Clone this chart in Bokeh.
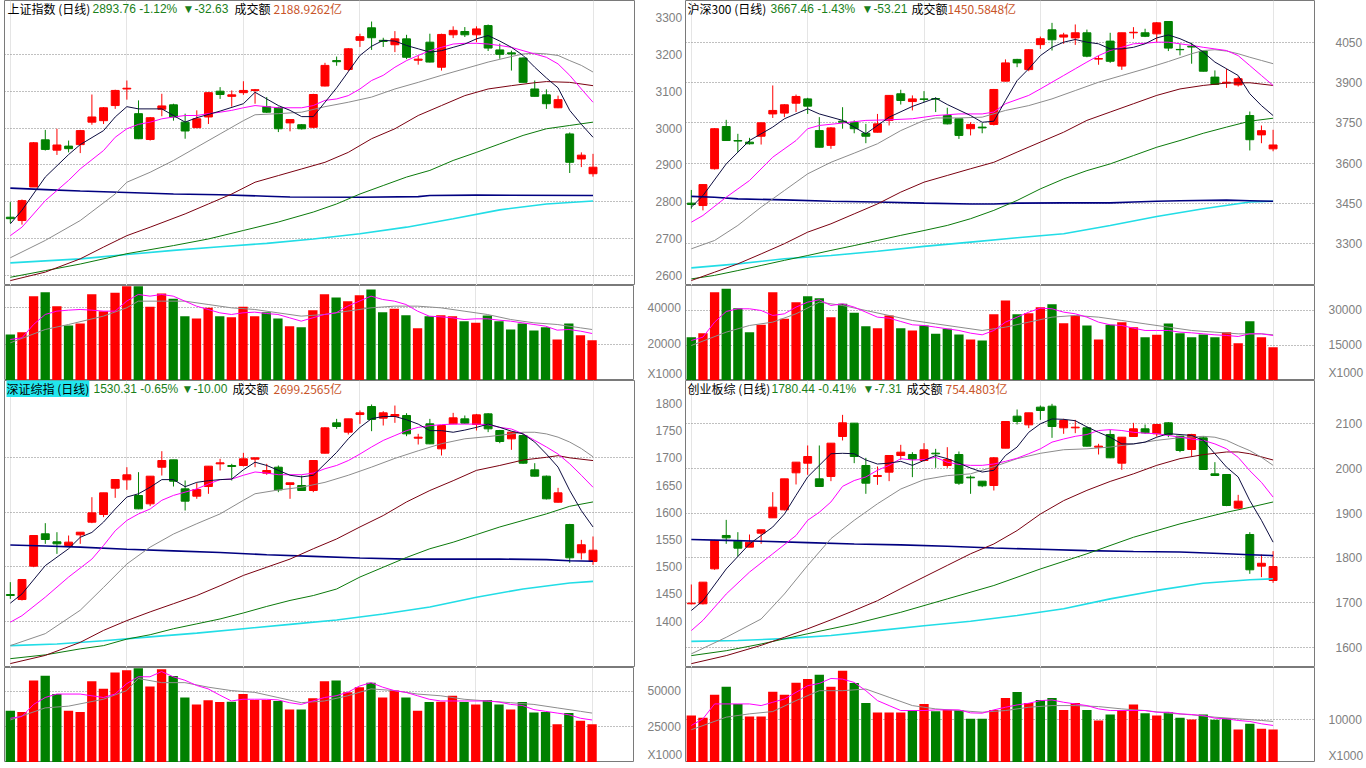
from bokeh.plotting import figure
from bokeh.layouts import column, row
from bokeh.models import FixedTicker, Label, Range1d, ColumnDataSource
from bokeh.embed import file_html
from bokeh.resources import INLINE

# ---------------- titles ----------------
sh_title = ["上证指数 (日线)", "2893.76 -1.12%", "▼-32.63", "成交额", "2188.9262亿"]
hs_title = ["沪深300 (日线)", "3667.46 -1.43%", "▼-53.21", "成交额", "1450.5848亿"]
sz_title = ["深证综指 (日线)", "1530.31 -0.65%", "▼-10.00", "成交额", "2699.2565亿"]
cy_title = ["创业板综 (日线)", "1780.44 -0.41%", "▼-7.31", "成交额", "754.4803亿"]
unit_label = "X1000"

# ---------------- 上证指数 ----------------
sh_open = [2758, 2749, 2840, 2968, 2940, 2951, 2955, 3016, 3020, 3061, 3106, 3039, 2969, 3051, 3063, 3016, 3001, 3030, 3100, 3086, 3096, 3102, 3058, 3055, 3014, 3009, 3002, 3114, 3183, 3159, 3238, 3272, 3238, 3226, 3242, 3184, 3233, 3165, 3253, 3262, 3253, 3278, 3212, 3204, 3190, 3106, 3090, 3055, 2984, 2916, 2876]
sh_high = [2799, 2806, 2962, 2995, 2998, 2966, 2995, 3091, 3057, 3104, 3129, 3075, 3030, 3093, 3066, 3039, 3048, 3097, 3111, 3102, 3127, 3106, 3084, 3058, 3023, 3011, 3093, 3177, 3194, 3217, 3256, 3289, 3245, 3263, 3253, 3197, 3256, 3256, 3276, 3274, 3276, 3281, 3229, 3210, 3192, 3129, 3105, 3088, 2988, 2934, 2930]
sh_low = [2742, 2738, 2840, 2939, 2927, 2934, 2932, 3009, 3011, 3052, 3077, 2970, 2966, 3032, 3020, 2971, 3000, 3011, 3079, 3058, 3090, 3066, 3041, 2989, 2991, 2996, 2999, 3113, 3169, 3154, 3220, 3212, 3220, 3206, 3187, 3172, 3178, 3156, 3244, 3247, 3233, 3209, 3188, 3156, 3124, 3086, 3052, 3054, 2878, 2894, 2868]
sh_close = [2754, 2803, 2960, 2942, 2954, 2944, 2993, 3030, 3055, 3102, 3108, 2971, 3028, 3060, 3030, 2992, 3025, 3096, 3091, 3090, 3102, 3104, 3043, 2998, 3023, 2998, 3091, 3170, 3180, 3215, 3248, 3245, 3235, 3242, 3192, 3187, 3179, 3254, 3265, 3253, 3269, 3217, 3200, 3201, 3124, 3086, 3066, 3077, 2907, 2926.39, 2893.76]
sh_vol = [25282, 26564, 46350, 48548, 40854, 30228, 31327, 47449, 38106, 48182, 51846, 51846, 40487, 47815, 44884, 35358, 34075, 39938, 35358, 34808, 40487, 35358, 37556, 34075, 29862, 29312, 38655, 47449, 45616, 43602, 46899, 50014, 37556, 39388, 35907, 28762, 35358, 35907, 35358, 32610, 31694, 35724, 32610, 28030, 31327, 27480, 29312, 22534, 31327, 24915, 22167]
sh_ma5 = [(0, 2740), (1, 2777), (3, 2867), (5, 2928), (6, 2955), (8, 2993), (9, 3030), (10, 3058), (11, 3052), (13, 3052), (14, 3034), (15, 3016), (16, 3028), (18, 3046), (20, 3066), (21, 3097), (22, 3079), (23, 3061), (24, 3048), (25, 3031), (26, 3031), (27, 3070), (28, 3109), (29, 3153), (30, 3197), (31, 3222), (32, 3238), (33, 3236), (34, 3224), (35, 3215), (36, 3206), (37, 3210), (38, 3219), (39, 3228), (40, 3242), (41, 3251), (42, 3236), (43, 3219), (44, 3197), (45, 3165), (46, 3136), (47, 3109), (48, 3048), (49, 3010), (50, 2975)]
sh_ma10 = [(0, 2708), (1, 2731), (3, 2803), (5, 2858), (6, 2889), (8, 2939), (9, 2975), (10, 2998), (11, 3010), (12, 3016), (13, 3025), (14, 3030), (15, 3034), (16, 3034), (17, 3039), (18, 3043), (19, 3048), (20, 3055), (21, 3061), (22, 3058), (23, 3055), (24, 3055), (25, 3055), (26, 3061), (27, 3075), (28, 3079), (29, 3088), (30, 3106), (31, 3129), (32, 3143), (33, 3165), (34, 3183), (35, 3197), (36, 3210), (37, 3219), (38, 3228), (39, 3230), (40, 3230), (41, 3228), (42, 3224), (43, 3219), (44, 3210), (45, 3201), (46, 3192), (47, 3174), (48, 3143), (49, 3106), (50, 3070)]
sh_ma20 = [(0, 2648), (3, 2695), (6, 2749), (9, 2821), (10, 2853), (12, 2880), (14, 2912), (16, 2948), (18, 2984), (20, 3020), (21, 3036), (23, 3039), (25, 3043), (27, 3058), (29, 3070), (31, 3084), (33, 3106), (35, 3124), (37, 3143), (39, 3161), (41, 3179), (43, 3194), (44, 3201), (45, 3203), (46, 3201), (47, 3197), (48, 3183), (49, 3170), (50, 3152)]
sh_ma60 = [(0, 2586), (3, 2609), (6, 2645), (8, 2677), (10, 2708), (12, 2731), (15, 2767), (17, 2794), (19, 2821), (21, 2853), (23, 2871), (25, 2889), (27, 2907), (29, 2934), (31, 2971), (33, 2998), (35, 3034), (37, 3061), (39, 3088), (41, 3106), (43, 3115), (45, 3123), (46, 3126), (48, 3124), (50, 3115)]
sh_ma120 = [(0, 2595), (3, 2613), (6, 2631), (10, 2659), (14, 2681), (17, 2699), (20, 2722), (23, 2745), (26, 2772), (28, 2794), (30, 2821), (32, 2844), (34, 2867), (36, 2885), (38, 2912), (40, 2934), (42, 2957), (44, 2980), (46, 2998), (48, 3007), (50, 3016)]
sh_ma250 = [(0, 2634), (6, 2645), (10, 2657), (14, 2668), (18, 2678), (22, 2687), (26, 2699), (30, 2713), (34, 2731), (38, 2754), (42, 2778), (46, 2794), (50, 2802)]
sh_navy = [(0, 2837), (3, 2833), (6, 2829), (10, 2825), (14, 2821), (18, 2819), (22, 2815), (24, 2813), (30, 2812), (35, 2814), (36, 2817), (40, 2818), (50, 2817)]
sh_vma5 = [(0, 22534), (1, 23450), (2, 30778), (3, 36274), (4, 38106), (5, 38655), (6, 39022), (7, 38655), (8, 38106), (9, 38106), (10, 43602), (11, 47266), (12, 46350), (13, 47266), (14, 46350), (15, 43602), (16, 40854), (17, 39022), (18, 37190), (19, 36274), (20, 37190), (21, 37556), (22, 36823), (23, 36274), (24, 34442), (25, 32610), (26, 34442), (27, 36274), (28, 37190), (29, 40854), (30, 43602), (31, 46350), (32, 44518), (33, 43602), (34, 41770), (35, 38106), (36, 35358), (37, 34991), (38, 34442), (39, 33526), (40, 33892), (41, 33892), (42, 33159), (43, 32610), (44, 31694), (45, 30778), (46, 29862), (47, 27663), (48, 28030), (49, 27114), (50, 25831)]
sh_vma10 = [(0, 20702), (3, 28030), (5, 30778), (8, 35358), (10, 39938), (11, 43602), (13, 43602), (15, 43602), (17, 41770), (19, 39938), (21, 39022), (23, 37190), (25, 35358), (27, 36274), (29, 38106), (31, 39938), (33, 40854), (35, 40854), (37, 39938), (39, 38106), (41, 36274), (43, 33526), (45, 31694), (47, 30778), (49, 28946), (50, 28030)]
sh_ticks = [2600, 2700, 2800, 2900, 3000, 3100, 3200, 3300]
sh_grid = [2600, 2700, 2800, 2900, 3000, 3100, 3200]
sh_vticks = [20000, 40000]

# ---------------- 沪深300 ----------------
hs_open = [3451, 3442, 3579, 3736, 3684, 3678, 3700, 3783, 3786, 3823, 3839, 3721, 3666, 3756, 3752, 3711, 3715, 3759, 3858, 3829, 3839, 3840, 3777, 3765, 3728, 3734, 3744, 3905, 3986, 3948, 4041, 4096, 4069, 4066, 4085, 3987, 4054, 3961, 4085, 4085, 4081, 4127, 4023, 4035, 4017, 3920, 3898, 3891, 3777, 3705, 3653]
hs_high = [3500, 3520, 3730, 3761, 3709, 3694, 3750, 3889, 3819, 3855, 3843, 3771, 3734, 3808, 3759, 3746, 3783, 3853, 3873, 3852, 3868, 3845, 3806, 3765, 3752, 3749, 3876, 3986, 3988, 4024, 4071, 4122, 4085, 4116, 4097, 4000, 4085, 4085, 4106, 4100, 4125, 4128, 4044, 4048, 4019, 3945, 3951, 3922, 3792, 3740, 3724]
hs_low = [3430, 3424, 3576, 3683, 3641, 3669, 3669, 3768, 3771, 3790, 3783, 3658, 3653, 3728, 3711, 3674, 3714, 3740, 3818, 3796, 3827, 3790, 3744, 3690, 3703, 3711, 3740, 3904, 3957, 3942, 4025, 4019, 4044, 4040, 3994, 3966, 3973, 3947, 4063, 4069, 4050, 4017, 4001, 3970, 3941, 3891, 3880, 3885, 3647, 3674, 3644]
hs_close = [3446, 3520, 3728, 3684, 3682, 3672, 3750, 3796, 3817, 3848, 3812, 3659, 3731, 3752, 3728, 3700, 3746, 3852, 3833, 3839, 3837, 3838, 3746, 3703, 3744, 3731, 3874, 3973, 3973, 4022, 4063, 4059, 4077, 4085, 3998, 3989, 3979, 4085, 4087, 4072, 4122, 4028, 4022, 4032, 3942, 3893, 3901, 3914, 3687, 3720.67, 3667.46]
hs_vol = [18572, 20286, 37858, 39287, 31000, 20715, 23858, 37858, 26429, 33572, 36144, 35286, 27143, 32858, 29001, 23286, 22429, 27858, 22429, 21429, 23572, 20000, 22143, 19715, 17572, 17143, 28429, 34286, 28429, 28858, 31429, 32715, 24572, 27858, 23572, 17572, 23858, 25001, 22858, 18572, 19572, 24429, 20286, 18572, 19715, 18572, 20715, 16000, 25429, 18572, 14286]
hs_ma5 = [(0, 3436), (1, 3479), (3, 3597), (5, 3684), (7, 3734), (8, 3765), (10, 3802), (11, 3783), (13, 3759), (15, 3709), (17, 3771), (19, 3811), (21, 3842), (22, 3818), (24, 3777), (25, 3752), (26, 3756), (27, 3833), (28, 3907), (29, 3951), (30, 4000), (31, 4031), (32, 4050), (33, 4060), (34, 4050), (35, 4044), (36, 4025), (37, 4025), (38, 4031), (39, 4044), (40, 4066), (41, 4077), (42, 4063), (43, 4044), (44, 4013), (45, 3976), (46, 3951), (47, 3926), (48, 3858), (49, 3814), (50, 3777)]
hs_ma10 = [(0, 3380), (1, 3405), (3, 3473), (5, 3535), (7, 3622), (9, 3684), (10, 3728), (11, 3740), (13, 3749), (15, 3759), (17, 3761), (19, 3765), (21, 3777), (23, 3783), (25, 3783), (26, 3790), (27, 3821), (29, 3852), (30, 3876), (31, 3901), (32, 3926), (33, 3951), (34, 3976), (35, 4000), (36, 4019), (37, 4031), (38, 4044), (39, 4046), (40, 4050), (41, 4050), (42, 4044), (43, 4038), (44, 4031), (45, 4025), (46, 4019), (47, 4000), (48, 3963), (49, 3926), (50, 3889)]
hs_ma20 = [(0, 3281), (2, 3312), (4, 3368), (6, 3436), (8, 3498), (10, 3560), (12, 3603), (14, 3637), (16, 3672), (18, 3721), (20, 3759), (21, 3768), (23, 3768), (25, 3771), (27, 3796), (29, 3814), (31, 3839), (33, 3870), (35, 3901), (37, 3926), (39, 3951), (41, 3978), (43, 4007), (44, 4019), (45, 4022), (46, 4017), (47, 4007), (48, 3994), (49, 3982), (50, 3970)]
hs_ma60 = [(0, 3163), (2, 3194), (4, 3225), (6, 3262), (8, 3300), (10, 3343), (12, 3374), (14, 3411), (16, 3448), (18, 3492), (20, 3529), (22, 3554), (24, 3579), (26, 3603), (28, 3641), (30, 3678), (32, 3715), (34, 3759), (36, 3790), (38, 3821), (40, 3852), (42, 3876), (44, 3889), (46, 3898), (48, 3899), (50, 3889)]
hs_ma120 = [(0, 3169), (2, 3182), (4, 3200), (6, 3219), (8, 3238), (10, 3256), (12, 3275), (14, 3293), (16, 3312), (18, 3331), (20, 3349), (22, 3368), (24, 3393), (26, 3424), (28, 3461), (30, 3504), (32, 3541), (34, 3572), (36, 3597), (38, 3628), (40, 3659), (42, 3684), (44, 3711), (46, 3734), (48, 3756), (50, 3767)]
hs_ma250 = [(0, 3210), (4, 3225), (8, 3244), (12, 3256), (16, 3272), (20, 3290), (24, 3306), (28, 3322), (32, 3337), (36, 3368), (40, 3401), (44, 3430), (48, 3455), (50, 3458)]
hs_navy = [(0, 3476), (2, 3473), (4, 3467), (8, 3463), (12, 3458), (16, 3455), (20, 3451), (24, 3448), (26, 3448), (28, 3451), (32, 3452), (36, 3452), (38, 3455), (40, 3458), (42, 3460), (46, 3462), (48, 3460), (50, 3458)]
hs_vma5 = [(0, 17143), (1, 18572), (2, 25001), (3, 29572), (4, 30715), (5, 30715), (6, 30001), (7, 27858), (8, 28572), (9, 31429), (10, 33572), (11, 34572), (12, 32144), (13, 32858), (14, 31429), (15, 29286), (16, 27143), (17, 26715), (18, 25286), (19, 23858), (20, 23572), (21, 22858), (22, 22143), (23, 21429), (24, 20286), (25, 19572), (26, 21429), (27, 25001), (28, 27143), (29, 29286), (30, 31000), (31, 30715), (32, 29286), (33, 28572), (34, 27143), (35, 25001), (36, 23858), (37, 23572), (38, 22429), (39, 21429), (40, 21429), (41, 21429), (42, 20715), (43, 20429), (44, 20000), (45, 19572), (46, 19286), (47, 18857), (48, 20000), (49, 20000), (50, 19286)]
hs_vma10 = [(0, 15000), (3, 20715), (5, 23572), (7, 25001), (9, 28572), (11, 33572), (13, 32144), (15, 30001), (17, 27858), (19, 25715), (21, 24286), (23, 22858), (25, 21429), (27, 22858), (29, 25001), (31, 27143), (33, 27858), (35, 27143), (37, 25715), (39, 24286), (41, 22858), (43, 21429), (45, 20715), (47, 20000), (49, 20000), (50, 19572)]
hs_ticks = [3300, 3450, 3600, 3750, 3900, 4050]
hs_grid = [3300, 3450, 3600, 3750, 3900, 4050]
hs_vticks = [15000, 30000]

# ---------------- 深证综指 ----------------
sz_open = [1448.9, 1439.7, 1501.0, 1560.4, 1545.7, 1538.9, 1558.5, 1581.8, 1595.9, 1644.3, 1659.6, 1630.8, 1615.5, 1682.8, 1696.3, 1643.0, 1629.6, 1647.3, 1689.0, 1685.9, 1685.9, 1697.6, 1671.8, 1682.8, 1651.0, 1649.2, 1640.0, 1708.6, 1764.3, 1747.2, 1779.6, 1794.3, 1772.9, 1776.5, 1777.8, 1736.1, 1762.5, 1716.5, 1762.5, 1771.6, 1761.2, 1780.8, 1750.2, 1734.9, 1741.0, 1677.9, 1666.3, 1618.5, 1577.5, 1525.5, 1509.5]
sz_high = [1471.6, 1476.5, 1557.3, 1580.0, 1563.4, 1557.3, 1563.4, 1627.7, 1635.7, 1660.2, 1682.8, 1673.7, 1666.3, 1712.2, 1696.3, 1658.4, 1653.5, 1684.7, 1698.2, 1689.0, 1709.2, 1700.0, 1689.0, 1685.9, 1654.1, 1667.5, 1695.1, 1756.3, 1771.6, 1771.6, 1787.0, 1798.0, 1785.7, 1796.1, 1782.1, 1744.1, 1771.6, 1759.4, 1782.7, 1777.8, 1780.8, 1782.1, 1751.4, 1747.2, 1744.1, 1690.2, 1667.5, 1644.9, 1578.7, 1549.3, 1555.5]
sz_low = [1440.9, 1437.9, 1499.1, 1542.0, 1523.6, 1535.9, 1542.0, 1580.0, 1591.0, 1626.5, 1641.2, 1605.7, 1611.2, 1667.5, 1647.3, 1603.2, 1624.7, 1633.9, 1676.7, 1658.4, 1684.1, 1682.8, 1668.8, 1636.9, 1624.7, 1639.4, 1636.9, 1708.0, 1753.3, 1742.9, 1762.5, 1749.0, 1759.4, 1764.3, 1739.8, 1724.5, 1725.1, 1704.3, 1761.9, 1762.5, 1750.2, 1747.2, 1726.9, 1714.7, 1689.0, 1665.7, 1623.5, 1617.9, 1507.1, 1513.2, 1503.4]
sz_close = [1447.1, 1476.5, 1557.3, 1550.0, 1542.0, 1545.1, 1563.4, 1599.0, 1635.7, 1660.2, 1668.8, 1606.3, 1666.3, 1695.1, 1657.1, 1620.4, 1641.8, 1684.7, 1690.8, 1684.1, 1698.2, 1700.0, 1676.7, 1641.2, 1654.1, 1640.0, 1695.1, 1755.1, 1757.6, 1771.6, 1782.7, 1770.4, 1782.7, 1779.6, 1744.1, 1738.0, 1725.7, 1759.4, 1773.5, 1763.7, 1779.0, 1753.3, 1730.0, 1747.2, 1690.2, 1666.3, 1624.7, 1635.7, 1516.3, 1540.31, 1530.31]
sz_vol = [36405, 35434, 57520, 60918, 48055, 36405, 35434, 57035, 51695, 63102, 64801, 66257, 53394, 65529, 60675, 45628, 40774, 43686, 42473, 42715, 48055, 43929, 43929, 43201, 37133, 37133, 45142, 57035, 57520, 49268, 52909, 56064, 45628, 50482, 45628, 36405, 42473, 42715, 46841, 42473, 40774, 43929, 40774, 37133, 42473, 35192, 35434, 26940, 34706, 29367, 26940]
sz_ma5 = [(0, 1433), (1, 1450), (3, 1502), (5, 1533), (6, 1554), (7, 1563), (8, 1582), (9, 1606), (10, 1628), (11, 1634), (12, 1646), (13, 1660), (14, 1660), (15, 1647), (16, 1655), (17, 1658), (18, 1660), (19, 1661), (20, 1678), (21, 1692), (22, 1686), (23, 1677), (24, 1668), (25, 1665), (26, 1668), (27, 1689), (28, 1710), (29, 1735), (30, 1756), (31, 1772), (32, 1776), (33, 1776), (34, 1770), (35, 1762), (36, 1750), (37, 1750), (38, 1747), (39, 1751), (40, 1756), (41, 1762), (42, 1756), (43, 1749), (44, 1744), (45, 1729), (46, 1707), (47, 1683), (48, 1640), (49, 1603), (50, 1573)]
sz_ma10 = [(0, 1398), (1, 1410), (3, 1444), (5, 1481), (7, 1514), (8, 1539), (9, 1566), (10, 1585), (11, 1597), (12, 1606), (13, 1622), (14, 1631), (15, 1637), (16, 1643), (17, 1652), (18, 1660), (19, 1661), (20, 1668), (21, 1674), (22, 1672), (23, 1669), (24, 1669), (25, 1669), (26, 1672), (27, 1680), (28, 1686), (29, 1695), (30, 1707), (31, 1720), (32, 1732), (33, 1741), (34, 1750), (35, 1756), (36, 1759), (37, 1761), (38, 1762), (39, 1762), (40, 1762), (41, 1761), (42, 1756), (43, 1753), (44, 1744), (45, 1732), (46, 1720), (47, 1707), (48, 1689), (49, 1668), (50, 1646)]
sz_ma20 = [(0, 1355), (3, 1377), (6, 1420), (8, 1462), (10, 1505), (12, 1536), (14, 1560), (16, 1579), (18, 1597), (20, 1622), (21, 1634), (23, 1641), (25, 1646), (27, 1655), (29, 1668), (31, 1683), (33, 1699), (35, 1713), (37, 1726), (39, 1735), (41, 1739), (43, 1744), (44, 1747), (45, 1747), (46, 1744), (47, 1738), (48, 1729), (49, 1717), (50, 1702)]
sz_ma60 = [(0, 1322), (3, 1337), (6, 1361), (8, 1383), (10, 1401), (12, 1417), (14, 1432), (16, 1447), (18, 1465), (20, 1484), (22, 1499), (24, 1514), (26, 1533), (28, 1551), (30, 1573), (32, 1594), (34, 1619), (36, 1640), (38, 1658), (40, 1677), (42, 1686), (44, 1696), (46, 1701), (47, 1704), (48, 1700), (50, 1695)]
sz_ma120 = [(0, 1331), (3, 1338), (6, 1349), (8, 1355), (10, 1367), (12, 1375), (14, 1386), (16, 1395), (18, 1404), (20, 1415), (22, 1427), (24, 1438), (26, 1447), (28, 1459), (30, 1481), (32, 1499), (34, 1517), (36, 1533), (38, 1545), (40, 1559), (42, 1573), (44, 1585), (46, 1597), (48, 1611), (50, 1619)]
sz_ma250 = [(0, 1355), (4, 1358), (8, 1364), (12, 1371), (16, 1378), (20, 1386), (24, 1394), (28, 1402), (32, 1413), (36, 1426), (40, 1444), (44, 1459), (48, 1470), (50, 1473)]
sz_navy = [(0, 1540), (3, 1538), (6, 1536), (10, 1532), (14, 1529), (18, 1526), (22, 1522), (26, 1519), (30, 1516), (34, 1514), (38, 1514), (42, 1514), (46, 1513), (48, 1511), (50, 1510)]
sz_vma5 = [(0, 31066), (1, 32279), (2, 40774), (3, 45628), (4, 48055), (6, 48055), (8, 45628), (9, 48055), (10, 55336), (11, 60190), (12, 60190), (13, 63830), (14, 60190), (15, 57763), (16, 54122), (17, 51695), (18, 47327), (19, 43201), (20, 44414), (21, 44414), (22, 44414), (23, 43929), (24, 41987), (25, 40774), (26, 43201), (27, 45628), (28, 46841), (29, 49268), (30, 53637), (31, 56064), (32, 52909), (33, 50482), (34, 49268), (35, 46841), (36, 44414), (37, 43201), (38, 43201), (39, 43201), (40, 43201), (41, 43201), (42, 42473), (43, 40774), (44, 40046), (45, 37133), (46, 35920), (47, 34706), (48, 33493), (49, 31066), (50, 29852)]
sz_vma10 = [(0, 29852), (3, 38347), (5, 39560), (8, 44414), (10, 50482), (11, 58976), (13, 56064), (15, 56064), (17, 52909), (19, 50482), (21, 49268), (23, 45628), (25, 41987), (27, 43201), (29, 46841), (31, 51695), (33, 50482), (35, 48055), (37, 46841), (39, 44414), (41, 43201), (43, 41987), (45, 40774), (47, 38347), (49, 35920), (50, 34706)]
sz_ticks = [1400, 1450, 1500, 1550, 1600, 1650, 1700, 1750, 1800]
sz_grid = [1400, 1500, 1600, 1700]
sz_vticks = [25000, 50000]

# ---------------- 创业板综 ----------------
cy_open = [1697.0, 1697.0, 1775.3, 1850.0, 1837.3, 1823.9, 1855.2, 1889.5, 1907.4, 1990.3, 2011.9, 1976.8, 1982.1, 2071.6, 2101.5, 2006.7, 1982.1, 1991.8, 2029.1, 2031.3, 2017.9, 2034.3, 2006.7, 2031.3, 1980.6, 1971.6, 1961.9, 2045.5, 2117.1, 2097.7, 2137.3, 2139.5, 2091.0, 2091.0, 2091.0, 2047.7, 2076.1, 2011.9, 2071.6, 2088.8, 2077.6, 2102.2, 2072.4, 2042.5, 2068.6, 1988.0, 1986.5, 1911.2, 1852.2, 1781.3, 1749.2]
cy_high = [1740.3, 1745.5, 1840.3, 1885.0, 1857.4, 1852.2, 1862.7, 1947.0, 1976.8, 2014.2, 2051.5, 2051.5, 2056.7, 2120.1, 2101.5, 2023.9, 2004.5, 2029.1, 2053.0, 2036.5, 2056.7, 2044.0, 2047.7, 2038.0, 1984.3, 1971.6, 2025.4, 2105.2, 2132.1, 2124.6, 2141.0, 2144.8, 2111.2, 2108.9, 2094.0, 2055.2, 2086.5, 2070.1, 2102.2, 2098.5, 2100.0, 2103.7, 2072.4, 2077.6, 2072.4, 2014.2, 1986.5, 1941.0, 1857.4, 1807.4, 1814.9]
cy_low = [1695.5, 1695.5, 1773.1, 1831.3, 1803.0, 1823.9, 1831.3, 1889.5, 1906.0, 1964.2, 1985.8, 1959.7, 1971.6, 2062.7, 2011.9, 1943.3, 1963.4, 1971.6, 2019.4, 1980.6, 2015.7, 2001.5, 2001.5, 1963.4, 1943.3, 1958.2, 1950.7, 2045.5, 2098.5, 2090.3, 2108.9, 2068.6, 2077.6, 2079.1, 2049.2, 2031.3, 2023.1, 1997.0, 2071.6, 2077.6, 2071.6, 2070.1, 2036.5, 2026.8, 1997.0, 1983.6, 1915.6, 1909.7, 1764.1, 1756.7, 1744.0]
cy_close = [1698.5, 1745.5, 1838.8, 1844.7, 1821.6, 1835.0, 1862.7, 1913.4, 1976.8, 2014.2, 2026.8, 1959.7, 2056.7, 2102.2, 2026.8, 1967.1, 1984.3, 2029.1, 2036.5, 2020.9, 2041.8, 2032.8, 2020.1, 1967.1, 1979.1, 1961.2, 2023.9, 2105.2, 2105.2, 2124.6, 2129.8, 2094.0, 2107.4, 2092.5, 2050.0, 2050.0, 2023.9, 2070.1, 2088.8, 2079.8, 2098.5, 2076.1, 2040.3, 2076.1, 1997.7, 1984.3, 1917.1, 1926.8, 1773.1, 1787.75, 1780.44]
cy_vol = [11005, 10463, 15888, 17748, 13718, 10773, 10773, 16585, 15888, 18678, 19530, 20538, 17748, 21468, 18600, 13950, 11703, 11703, 11703, 12168, 13718, 12013, 12323, 12323, 10230, 10230, 12323, 15113, 16508, 13950, 14648, 15113, 12323, 13950, 12323, 9843, 11238, 12168, 13563, 11548, 11005, 11780, 10463, 10075, 11238, 9998, 10385, 7750, 9068, 7905, 7750]
cy_ma5 = [(0, 1682), (1, 1704), (3, 1775), (5, 1831), (7, 1869), (8, 1898), (9, 1940), (10, 1981), (11, 2007), (12, 2033), (13, 2034), (14, 2033), (15, 2019), (16, 2010), (17, 2012), (18, 2016), (19, 2007), (20, 2018), (21, 2029), (22, 2022), (23, 2012), (24, 2001), (25, 1992), (26, 1996), (27, 2029), (28, 2048), (29, 2081), (30, 2100), (31, 2111), (32, 2110), (33, 2107), (34, 2093), (35, 2081), (36, 2070), (37, 2055), (38, 2055), (39, 2059), (40, 2070), (41, 2078), (42, 2076), (43, 2074), (44, 2063), (45, 2033), (46, 2003), (47, 1981), (48, 1928), (49, 1884), (50, 1835)]
cy_ma10 = [(0, 1637), (1, 1660), (3, 1719), (5, 1768), (7, 1809), (9, 1850), (10, 1884), (11, 1902), (12, 1925), (13, 1960), (14, 1973), (15, 1981), (16, 1996), (17, 2007), (18, 2022), (19, 2019), (20, 2020), (21, 2025), (22, 2014), (23, 2009), (24, 2007), (25, 2007), (26, 2010), (27, 2016), (28, 2023), (29, 2033), (30, 2044), (31, 2059), (32, 2066), (33, 2072), (34, 2076), (35, 2085), (36, 2087), (37, 2085), (38, 2081), (39, 2079), (40, 2078), (41, 2074), (42, 2070), (43, 2066), (44, 2063), (45, 2055), (46, 2044), (47, 2025), (48, 1995), (49, 1969), (50, 1936)]
cy_ma20 = [(0, 1585), (3, 1622), (6, 1663), (8, 1719), (10, 1783), (12, 1843), (14, 1884), (16, 1921), (18, 1954), (20, 1975), (22, 1984), (24, 1988), (26, 2004), (28, 2022), (30, 2034), (32, 2042), (34, 2044), (36, 2048), (38, 2055), (40, 2063), (42, 2069), (44, 2072), (45, 2070), (46, 2063), (47, 2051), (48, 2040), (49, 2025), (50, 2007)]
cy_ma60 = [(0, 1563), (3, 1581), (6, 1604), (8, 1622), (10, 1641), (12, 1661), (14, 1682), (16, 1704), (18, 1731), (20, 1757), (22, 1783), (24, 1809), (26, 1831), (28, 1861), (30, 1898), (32, 1928), (34, 1951), (36, 1971), (38, 1988), (40, 2007), (42, 2022), (44, 2031), (46, 2037), (47, 2037), (48, 2033), (50, 2019)]
cy_ma120 = [(0, 1581), (3, 1592), (6, 1607), (10, 1630), (14, 1652), (18, 1678), (22, 1708), (26, 1738), (30, 1775), (34, 1809), (38, 1846), (42, 1876), (46, 1902), (48, 1913), (50, 1925)]
cy_ma250 = [(0, 1613), (4, 1615), (8, 1619), (12, 1626), (16, 1637), (20, 1648), (24, 1658), (28, 1671), (32, 1686), (36, 1708), (40, 1727), (44, 1743), (48, 1751), (50, 1753)]
cy_navy = [(0, 1841), (3, 1839), (6, 1837), (10, 1834), (14, 1831), (18, 1829), (22, 1826), (26, 1822), (30, 1819), (34, 1816), (38, 1814), (42, 1813), (46, 1809), (48, 1807), (50, 1805)]
cy_vma5 = [(0, 8680), (1, 10230), (2, 13718), (4, 13718), (5, 13718), (6, 13330), (7, 14105), (8, 14880), (9, 16430), (10, 17980), (11, 18523), (12, 19685), (13, 19530), (14, 18755), (15, 16818), (16, 14493), (17, 13330), (18, 12168), (20, 12168), (21, 12323), (23, 12323), (24, 11625), (25, 11548), (26, 12323), (27, 12943), (28, 13485), (29, 13873), (30, 14493), (31, 14648), (32, 14105), (33, 13718), (34, 13330), (35, 12555), (36, 12168), (39, 12168), (40, 11780), (41, 11780), (42, 11393), (43, 11238), (44, 11005), (45, 10385), (46, 10230), (47, 9843), (48, 9610), (49, 9068), (50, 8680)]
cy_vma10 = [(0, 7673), (3, 10618), (5, 11393), (7, 11935), (9, 14493), (11, 16818), (13, 16818), (15, 17205), (17, 15268), (19, 13330), (21, 12555), (23, 12168), (25, 11780), (27, 12168), (29, 12943), (31, 13330), (33, 13330), (35, 13098), (37, 12555), (39, 12168), (41, 11548), (43, 11160), (45, 10618), (47, 10230), (49, 9843), (50, 9610)]
cy_ticks = [1600, 1700, 1800, 1900, 2000, 2100]
cy_grid = [1600, 1700, 1800, 1900, 2000, 2100]
cy_vticks = [10000]

# ---------------- styling ----------------
RED = "#ff0000"
GREEN = "#008000"
GRID = "#808080"
AXIS_TXT = "#808080"
X_RANGE = (-0.5, 53.56)
CJK = "Noto Sans CJK SC"
LATIN = "Liberation Sans"


def base_fig(width, height, left, right, yr, ticks, grid, standoff, overrides=None):
    p = figure(width=width, height=height, output_backend="svg", toolbar_location=None,
               title=None, x_range=Range1d(*X_RANGE), y_range=Range1d(*yr),
               x_axis_location=None, y_axis_location="right",
               min_border_left=left, min_border_right=right,
               min_border_top=0, min_border_bottom=0,
               background_fill_color="white", border_fill_color="white",
               outline_line_color="#7a7a7a", outline_line_width=1)
    p.ygrid.ticker = FixedTicker(ticks=grid)
    p.ygrid.grid_line_color = GRID
    p.ygrid.grid_line_dash = "1 2"
    p.ygrid.grid_line_width = 1
    ax = p.yaxis[0]
    ax.ticker = FixedTicker(ticks=ticks)
    ax.axis_line_color = None
    ax.major_tick_line_color = None
    ax.minor_tick_line_color = None
    ax.major_tick_out = 0
    ax.major_tick_in = 0
    ax.major_label_standoff = standoff
    ax.major_label_text_font = LATIN
    ax.major_label_text_font_size = "12px"
    ax.major_label_text_color = AXIS_TXT
    if overrides:
        ax.major_label_overrides = overrides
    return p


def draw_line(p, pairs, color, width):
    p.line([a for a, b in pairs], [b for a, b in pairs], line_color=color, line_width=width)


def panel(width, left, right, main_h, vol_h, yr, ticks, grid, vticks, vmax,
          o, h, l, c, vol, mas, vmas, title, title_x, name_bg):
    n = len(o)
    xs = list(range(n))
    colors = [RED if c[i] >= o[i] else GREEN for i in range(n)]
    src = ColumnDataSource(dict(
        x=xs, h=h, l=l, color=colors,
        top=[max(o[i], c[i]) for i in range(n)],
        bottom=[min(o[i], c[i]) for i in range(n)],
        vol=vol))

    pm = base_fig(width, main_h, left, right, yr, ticks, grid, 21)
    pm.segment(x0="x", y0="l", x1="x", y1="h", line_color="color", line_width=1, source=src)
    pm.vbar(x="x", width=0.68, top="top", bottom="bottom", fill_color="color",
            line_color="color", line_width=1, source=src)
    ma5, ma10, ma20, ma60, ma120, ma250, navy = mas
    draw_line(pm, ma250, "#22dde6", 1.6)
    draw_line(pm, navy, "#000080", 1.6)
    draw_line(pm, ma120, "#0b7a0b", 1)
    draw_line(pm, ma60, "#7a0010", 1)
    draw_line(pm, ma20, "#8c8c8c", 1)
    draw_line(pm, ma10, "#ff00ff", 1)
    draw_line(pm, ma5, "#0c0c40", 1)

    tcolors = ["black", "#1a7f1a", "#1a7f1a", "black", "#c8552a"]
    tfonts = [CJK, LATIN, LATIN, CJK, CJK]
    for k, (txt, tx) in enumerate(zip(title, title_x)):
        lab = Label(x=tx, y=main_h - 8, x_units="screen", y_units="screen", text=txt,
                    text_color=tcolors[k], text_font=tfonts[k], text_font_size="12px",
                    text_baseline="middle", text_align="left")
        if k == 0 and name_bg:
            lab.background_fill_color = name_bg
        pm.add_layout(lab)

    # unit tag "X1000" shown as an extra tick label near the bottom of the volume axis
    unit_pos = int(round(vmax * 7.0 / vol_h))
    pv = base_fig(width, vol_h, left, right, (0, vmax), vticks + [unit_pos], vticks, 14,
                  overrides={unit_pos: unit_label})
    pv.vbar(x="x", width=0.8, top="vol", bottom=0, fill_color="color",
            line_color="color", line_width=0, source=src)
    draw_line(pv, vmas[1], "#8c8c8c", 1)
    draw_line(pv, vmas[0], "#ff00ff", 1)
    return pm, pv


sh_m, sh_v = panel(685, 4, 51, 285, 95, (2572.7, 3346.1), sh_ticks, sh_grid, sh_vticks, 52200,
                   sh_open, sh_high, sh_low, sh_close, sh_vol,
                   (sh_ma5, sh_ma10, sh_ma20, sh_ma60, sh_ma120, sh_ma250, sh_navy),
                   (sh_vma5, sh_vma10), sh_title, [3, 88, 178, 230, 269], None)
hs_m, hs_v = panel(681, 0, 52, 285, 95, (3144.4, 4205.2), hs_ticks, hs_grid, hs_vticks, 40700,
                   hs_open, hs_high, hs_low, hs_close, hs_vol,
                   (hs_ma5, hs_ma10, hs_ma20, hs_ma60, hs_ma120, hs_ma250, hs_navy),
                   (hs_vma5, hs_vma10), hs_title, [2, 85, 176, 226, 262], None)
sz_m, sz_v = panel(685, 4, 51, 287, 95, (1314.8, 1842.1), sz_ticks, sz_grid, sz_vticks, 66700,
                   sz_open, sz_high, sz_low, sz_close, sz_vol,
                   (sz_ma5, sz_ma10, sz_ma20, sz_ma60, sz_ma120, sz_ma250, sz_navy),
                   (sz_vma5, sz_vma10), sz_title, [2, 89, 177, 228, 269], "#22e6ee")
cy_m, cy_v = panel(681, 0, 52, 287, 95, (1554.4, 2197.0), cy_ticks, cy_grid, cy_vticks, 22250,
                   cy_open, cy_high, cy_low, cy_close, cy_vol,
                   (cy_ma5, cy_ma10, cy_ma20, cy_ma60, cy_ma120, cy_ma250, cy_navy),
                   (cy_vma5, cy_vma10), cy_title, [2, 86, 177, 221, 260], None)

layout = column(row(sh_m, hs_m), row(sh_v, hs_v), row(sz_m, cy_m), row(sz_v, cy_v))

with open("out.html", "w") as f:
    f.write(file_html(layout, INLINE))
